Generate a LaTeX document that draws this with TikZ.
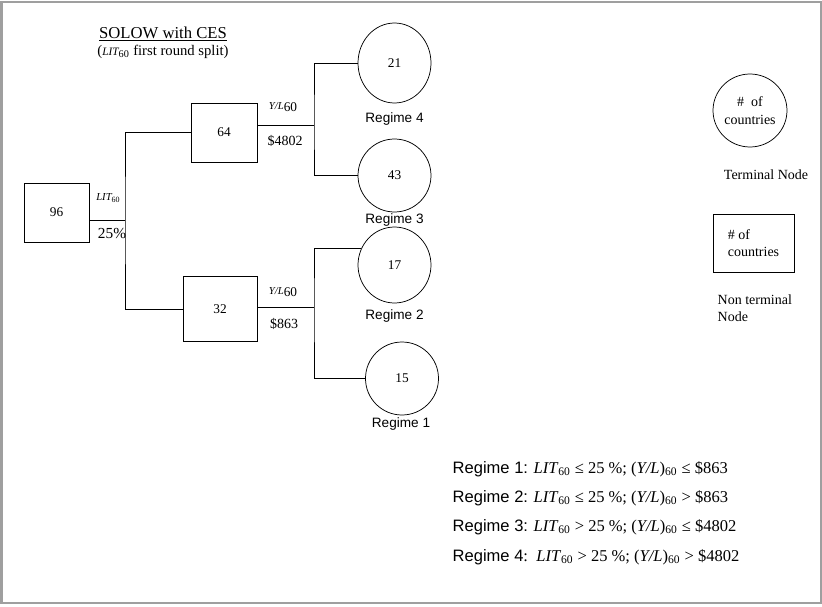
\documentclass[tikz,border=0pt]{standalone}
\usepackage{fontspec}
\setmainfont{Liberation Serif}
\newfontfamily\regfont{Liberation Sans}
\usetikzlibrary{positioning,shapes.geometric}
\newcommand{\lowsub}[1]{\textsubscript{\upshape#1}}
\newcommand{\lit}{\textit{LIT}\lowsub{60}}
\newcommand{\ylsplit}{{\fontsize{8}{9}\selectfont\itshape Y/L}\raisebox{-1.5pt}{60}}

\begin{document}
\begin{tikzpicture}[
  x=0.75pt, y=-0.75pt,
  font=\fontsize{10}{12}\selectfont,
  nbox/.style={rectangle, draw, line width=0.6pt, align=center},
  tnode/.style={ellipse, draw, line width=0.55pt, minimum width=54.75pt,
                minimum height=54.75pt, inner sep=0pt, align=center},
  edge/.style={line width=0.6pt},
  reglab/.style={font=\regfont\fontsize{10.2}{12}\selectfont},
  legtxt/.style={font=\fontsize{10.5}{13}\selectfont},
  rule/.style={anchor=west, font=\fontsize{12.4}{14}\selectfont}
]
  \useasboundingbox (0,0) rectangle (822,607);
  \draw[gray!75, line width=1.5pt] (1.5,1.5) rectangle (820.5,602.5);

  \node (title) at (163,34) {\fontsize{12.5}{15}\selectfont\underline{SOLOW with CES}};
  \node (subtitle) at (163,52) {\fontsize{11}{13}\selectfont
    ({\fontsize{8.5}{10}\selectfont\itshape LIT}\lowsub{60} first round split)};

  \node[nbox, minimum width=48.75pt, minimum height=44.25pt] (n96) at (56.5,212.5) {96};
  \node[nbox, minimum width=49.5pt, minimum height=44.25pt] (n64) at (224,132.5) {64};
  \node[nbox, minimum width=55.5pt, minimum height=48.75pt] (n32) at (220,309) {32};
  \node[tnode, minimum height=60pt] (t21) at (394.5,63) {21};
  \node[tnode] (t43) at (394.5,175.5) {43};
  \node[tnode, minimum height=57pt] (t17) at (394.5,265) {17};
  \node[tnode] (t15) at (402,378.5) {15};

  \coordinate (s1) at (125,220);
  \coordinate (s2) at (314,125);
  \coordinate (s3) at (314,307);

  \draw[edge] (n96.east |- s1) -- (s1);
  \draw[edge] (n64.west) -| (s1) |- (n32.west);
  \draw[edge] (n64.east |- s2) -- (s2);
  \draw[edge] (t21.west) -| (s2) |- (t43.west);
  \draw[edge] (n32.east |- s3) -- (s3);
  \draw[edge] (t17.153) -| (s3) |- (t15.west);

  \node (lit) at (108,198) {{\fontsize{8}{9}\selectfont\itshape LIT}{\fontsize{6}{7}\selectfont\raisebox{-2pt}{60}}};
  \node (cut1) at (112,233) {\fontsize{11.5}{13}\selectfont 25\%};
  \node (yl1) at (283,107) {\ylsplit};
  \node (cut2) at (285,141) {\fontsize{10.5}{12}\selectfont\$4802};
  \node (yl2) at (283,292) {\ylsplit};
  \node (cut3) at (284,324) {\fontsize{10.5}{12}\selectfont\$863};

  \node[reglab] (r4) at (394.5,119) {Regime 4};
  \node[reglab] (r3) at (394.5,220) {Regime 3};
  \node[reglab] (r2) at (394.5,316) {Regime 2};
  \node[reglab] (r1) at (401,424) {Regime 1};

  \node[tnode, minimum width=55.5pt, legtxt] (legterm) at (750,110.5) {\#\ \ of\\countries};
  \node[legtxt] (legterml) at (766,175) {Terminal Node};
  \node[nbox, minimum width=60.75pt, minimum height=43.5pt, align=left, legtxt] (legnon) at (753.5,243) {\# of\\countries};
  \node[anchor=west, align=left, legtxt] (legnonl) at (713,308.5) {Non terminal\\Node};

  \node[rule] (rg1) at (448,469) {{\regfont Regime 1:} \lit\ ≤ 25 \%; (\textit{Y/L})\lowsub{60} ≤ \$863};
  \node[rule] (rg2) at (448,498) {{\regfont Regime 2:} \lit\ ≤ 25 \%; (\textit{Y/L})\lowsub{60} > \$863};
  \node[rule] (rg3) at (448,527) {{\regfont Regime 3:} \lit\ > 25 \%; (\textit{Y/L})\lowsub{60} ≤ \$4802};
  \node[rule] (rg4) at (448,557) {{\regfont Regime 4}:\ \ \lit\ > 25 \%; (\textit{Y/L})\lowsub{60} > \$4802};
\end{tikzpicture}
\end{document}
